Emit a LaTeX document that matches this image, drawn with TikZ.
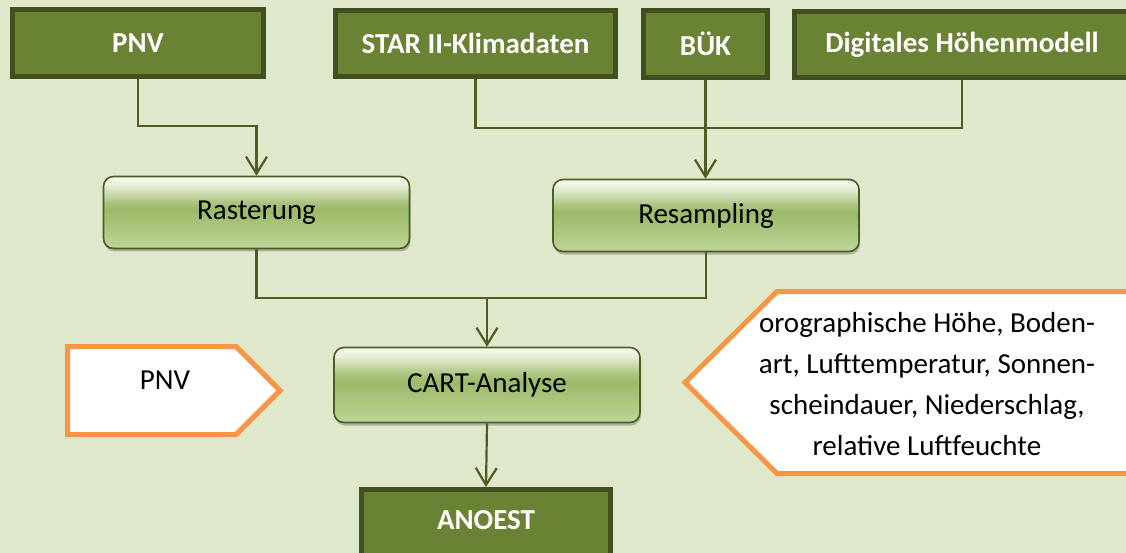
\documentclass[tikz,border=0pt]{standalone}
\usepackage{fontspec}
\setmainfont{Carlito}
\usetikzlibrary{arrows.meta,shadows}
\definecolor{bg}{HTML}{DFE8CA}
\definecolor{darkfill}{HTML}{6A8234}
\definecolor{darkline}{HTML}{405020}
\definecolor{connc}{HTML}{4A5D22}
\definecolor{orangec}{HTML}{F79646}
\definecolor{gbot}{HTML}{BDD598}
\definecolor{gmid}{HTML}{9CBA68}
\definecolor{gmid2}{HTML}{AAC47E}
\definecolor{gtop2}{HTML}{E6EED8}
\definecolor{gtop}{HTML}{F7FAF1}
\pgfdeclareverticalshading{boxgrad}{100bp}{color(0bp)=(gbot); color(25bp)=(gbot); color(52bp)=(gmid); color(57bp)=(gmid2); color(69bp)=(gtop2); color(75bp)=(gtop); color(100bp)=(gtop)}
\tikzset{
  topbox/.style={draw=darkline, fill=darkfill, line width=5pt, text=white,
    font=\fontsize{29pt}{35pt}\selectfont\bfseries, inner sep=0pt},
  procbox/.style={draw=connc, line width=1.6pt, rounded corners=10pt, shading=boxgrad,
    drop shadow={shadow xshift=1pt, shadow yshift=-3pt, opacity=0.35, fill=black!70},
    minimum width=306pt, font=\fontsize{29pt}{35pt}\selectfont, inner sep=0pt},
  conn/.style={draw=connc, line width=2.2pt},
  arr/.style={-{Straight Barb[length=17pt,width=21pt]}},
  pent/.style={draw=orangec, fill=white, line width=5pt},
  plain/.style={font=\fontsize{29pt}{40.7pt}\selectfont, align=center, inner sep=0pt}
}
\begin{document}
\begin{tikzpicture}[x=1pt,y=-1pt]
\useasboundingbox (0,0) rectangle (1126,553);
\fill[bg] (0,0) rectangle (1126,553);
\clip (0,0) rectangle (1126,553);

% top boxes
\node[topbox, minimum width=251pt, minimum height=67pt] (pnv) at (138,43) {PNV};
\node[topbox, minimum width=280pt, minimum height=66pt] (star) at (475.5,43.5) {STAR II-Klimadaten};
\node[topbox, minimum width=124pt, minimum height=67pt] (buk) at (705.5,44) {BÜK};
\node[topbox, minimum width=335pt, minimum height=66pt] (dhm) at (962,44.5) {Digitales Höhenmodell};

% process boxes
\node[procbox, minimum height=72pt] (rast) at (256.5,212.5) {Rasterung};
\node[procbox, minimum height=72pt] (res) at (706,215.5) {Resampling};
\node[procbox, minimum height=75pt] (cart) at (487,385) {CART-Analyse};

% output
\node[topbox, minimum width=249pt, minimum height=67pt] (anoest) at (486,523) {};
\node[text=white, font=\fontsize{29pt}{35pt}\selectfont\bfseries, inner sep=0pt] (anoestt) at (486,520) {ANOEST};

% pentagons
\draw[pent] (67.5,346.5) -- (236,346.5) -- (280,390.5) -- (236,434.5) -- (67.5,434.5) -- cycle;
\node[plain] (pnvl) at (165,380) {PNV};
\draw[pent] (1140,291.5) -- (777,291.5) -- (685,382.5) -- (777,473.5) -- (1140,473.5) -- cycle;
\node[plain] (vars) at (927,384) {orographische Höhe, Boden-\\art, Lufttemperatur, Sonnen-\\scheindauer, Niederschlag,\\relative Luftfeuchte};

% connectors
\coordinate (yA) at (0,126);
\coordinate (yB) at (0,128);
\coordinate (yC) at (0,298);
\draw[conn,arr] (pnv.south) -- (pnv.south |- yA) -| (rast.north);
\draw[conn] (star.south) -- (star.south |- yB) -| (dhm.south);
\draw[conn,arr] (buk.south) -- (buk.south |- res.north);
\draw[conn] (rast.south) |- (yC -| cart.north);
\draw[conn] (res.south) |- (yC -| cart.north);
\draw[conn,arr] (yC -| cart.north) -- (cart.north);
\draw[conn,arr] (cart.south) -- (anoest.north);
\end{tikzpicture}
\end{document}
